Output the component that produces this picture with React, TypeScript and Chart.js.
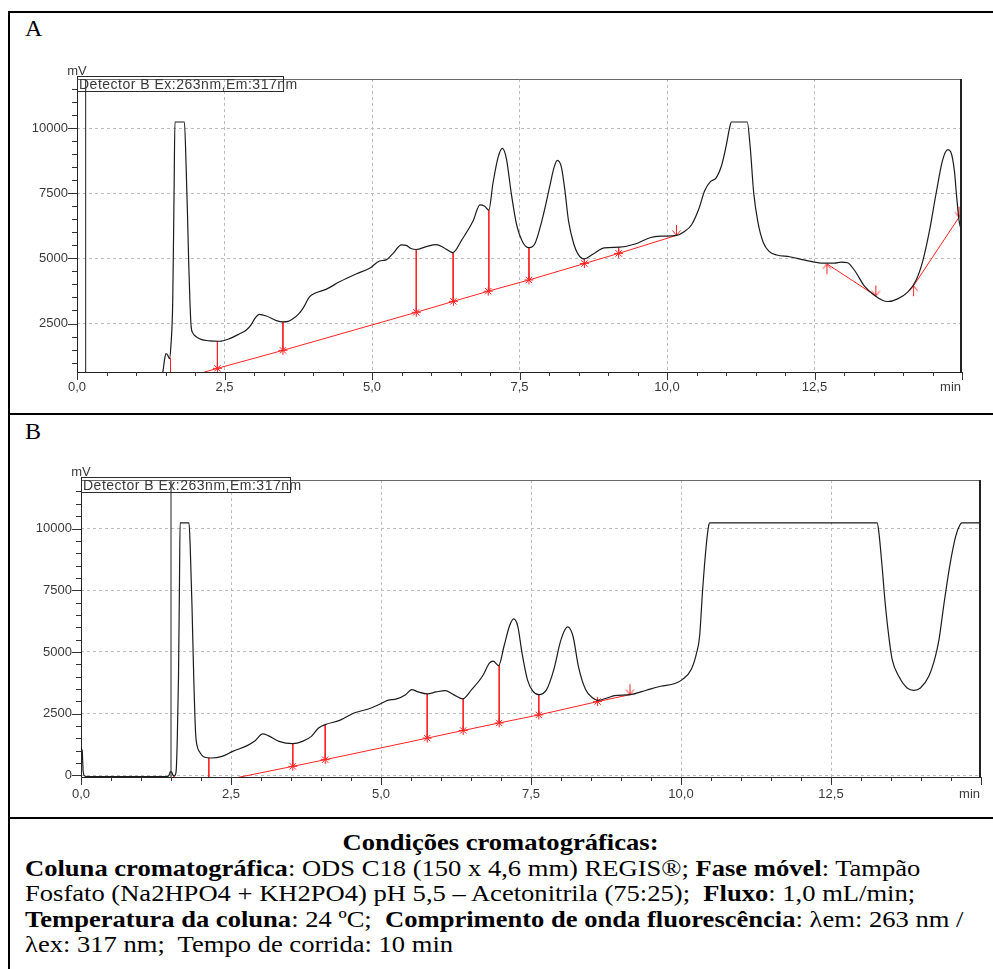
import React, { useEffect, useRef } from 'react';
import { Chart, registerables } from 'chart.js';

Chart.register(...registerables);

// ---------------- Panel A (chromatogram) ----------------
const timeA = [1.42, 1.455, 1.49, 1.51, 1.535, 1.567, 1.59, 1.623, 1.645, 1.66,
  1.82, 1.85, 1.875, 1.895, 1.915, 1.934, 1.96, 1.99, 2.05, 2.1,
  2.245, 2.415, 2.585, 2.75, 2.87, 2.95, 3.01, 3.09, 3.21, 3.38,
  3.49, 3.58, 3.66, 3.75, 3.83, 3.94, 4.03, 4.22, 4.45, 4.73,
  4.96, 5.13, 5.24, 5.35, 5.5, 5.58, 5.66, 5.75, 5.92, 6.09,
  6.23, 6.37, 6.52, 6.71, 6.83, 6.91, 6.98, 7.05, 7.14, 7.21,
  7.28, 7.36, 7.45, 7.56, 7.66, 7.76, 7.88, 8.01, 8.08, 8.14,
  8.21, 8.27, 8.33, 8.42, 8.49, 8.59, 8.75, 8.94, 9.2, 9.46,
  9.71, 9.9, 10.16, 10.29, 10.42, 10.54, 10.64, 10.74, 10.83, 10.93,
  11.01, 11.06, 11.09, 11.36, 11.41, 11.47, 11.54, 11.63, 11.73, 11.86,
  12.08, 12.34, 12.61, 12.84, 12.95, 13.06, 13.18, 13.35, 13.52, 13.66,
  13.74, 13.91, 14.08, 14.22, 14.33, 14.45, 14.56, 14.67, 14.76, 14.81,
  14.87, 14.91, 14.95, 15.0];
const signalA = [300, 640, 1200, 1350, 1300, 1150, 1600, 3400, 7500, 10230,
  10230, 8500, 6500, 4700, 3300, 2400, 2150, 2050, 1950, 1890,
  1835, 1820, 1920, 2100, 2250, 2450, 2680, 2850, 2790, 2610,
  2560, 2580, 2680, 2850, 3080, 3520, 3660, 3810, 4100, 4400,
  4620, 4900, 4940, 5170, 5520, 5500, 5380, 5340, 5450, 5530,
  5390, 5220, 5700, 6420, 7050, 7000, 6850, 7880, 8900, 9220,
  8800, 7500, 6300, 5600, 5410, 5560, 6450, 7730, 8440, 8760,
  8500, 7600, 6450, 5550, 5170, 4980, 5170, 5400, 5430, 5550,
  5790, 5850, 5880, 6020, 6300, 6900, 7600, 7950, 8080, 8600,
  9400, 10000, 10230, 10230, 9270, 7500, 6400, 5620, 5270, 5130,
  5060, 4930, 4820, 4816, 4854, 4830, 4534, 3920, 3574, 3382,
  3344, 3446, 3702, 4150, 4854, 6070, 7478, 8758, 9168, 9078,
  8374, 7350, 6454, 6000];
const baseTimeA = [2.15, 2.38, 3.49, 5.75, 6.38, 6.97, 7.66, 8.6, 9.18, 10.16];
const baseA = [630, 780, 1470, 2930, 3350, 3740, 4170, 4800, 5190, 5880];
const baseTimeA2 = [12.71, 13.54];
const baseA2 = [4790, 3560];
const baseTimeA3 = [14.18, 14.95];
const baseA3 = [3950, 6580];
const dropTimeA = [1.585, 2.38, 3.49, 5.75, 6.375, 6.98, 7.66, 8.6, 9.18];
const dropTopA = [1180, 1822, 2560, 5340, 5220, 6850, 5410, 4990, 5430];
const dropBottomA = [300, 780, 1470, 2930, 3350, 3740, 4170, 4800, 5190];
const starTimeA = [2.38, 3.49, 5.75, 6.38, 6.97, 7.66, 8.6, 9.18];
const starA = [780, 1470, 2930, 3350, 3740, 4170, 4800, 5190];
const arrowTimeA = [10.16, 12.71, 13.54, 14.18, 14.95];
const arrowA = [5880, 4790, 3560, 3950, 6580];
const arrowDirA = ['down', 'up', 'down', 'up', 'down'];
const markerTimeA = 0.147;
const yMajorA = [2500, 5000, 7500, 10000];

// ---------------- Panel B (chromatogram) ----------------
const timeB = [0, 0.02, 0.035, 0.06, 0.1, 1.44, 1.47, 1.49, 1.51, 1.53,
  1.56, 1.585, 1.605, 1.625, 1.64, 1.652, 1.8, 1.82, 1.85, 1.88,
  1.91, 1.94, 1.97, 2.05, 2.17, 2.35, 2.53, 2.77, 2.89, 3.03,
  3.12, 3.3, 3.53, 3.69, 3.84, 3.96, 4.07, 4.31, 4.55, 4.79,
  4.97, 5.11, 5.26, 5.41, 5.51, 5.62, 5.77, 5.92, 6.07, 6.21,
  6.36, 6.51, 6.69, 6.81, 6.87, 6.96, 7.05, 7.14, 7.21, 7.28,
  7.35, 7.44, 7.53, 7.63, 7.76, 7.88, 8.0, 8.11, 8.2, 8.29,
  8.41, 8.53, 8.61, 8.77, 8.89, 9.15, 9.42, 9.66, 9.9, 10.02,
  10.17, 10.26, 10.31, 10.36, 10.42, 10.46, 10.48, 13.27, 13.3, 13.35,
  13.41, 13.47, 13.52, 13.63, 13.77, 13.88, 13.99, 14.13, 14.24, 14.3,
  14.38, 14.48, 14.58, 14.65, 14.68, 15.0];
const signalB = [1100, 1000, 200, -20, -45, -45, 20, 150, 140, 20,
  -10, 150, 1500, 4000, 7500, 10230, 10230, 9280, 6850, 3880,
  1720, 1150, 975, 745, 705, 770, 975, 1205, 1380, 1680,
  1610, 1380, 1290, 1380, 1580, 1920, 2055, 2230, 2530, 2690,
  2870, 3040, 3100, 3270, 3475, 3380, 3300, 3380, 3435, 3270,
  3100, 3475, 4015, 4555, 4625, 4450, 5230, 6040, 6340, 6040,
  4960, 3880, 3410, 3270, 3475, 4285, 5500, 6015, 5635, 4420,
  3475, 3135, 3040, 3135, 3230, 3270, 3450, 3610, 3720, 3880,
  4285, 4960, 5635, 7500, 9300, 10100, 10230, 10230, 9800, 8500,
  6800, 5500, 4690, 4014, 3540, 3446, 3540, 4014, 4824, 5500,
  6900, 8500, 9700, 10150, 10230, 10230];
const baseTimeB = [2.55, 3.53, 4.07, 5.77, 6.37, 6.97, 7.63, 8.61, 9.15];
const baseB = [-115, 367, 637, 1510, 1820, 2124, 2450, 2990, 3270];
const dropTimeB = [1.55, 2.13, 3.53, 4.07, 5.77, 6.37, 6.97, 7.63, 8.61];
const dropTopB = [-10, 710, 1290, 2055, 3300, 3100, 4450, 3270, 3040];
const dropBottomB = [-200, -200, 367, 637, 1510, 1820, 2124, 2450, 2990];
const starTimeB = [3.53, 4.07, 5.77, 6.37, 6.97, 7.63, 8.61];
const starB = [367, 637, 1510, 1820, 2124, 2450, 2990];
const arrowTimeB = [9.15];
const arrowB = [3270];
const arrowDirB = ['down'];
const markerTimeB = 1.5;
const yMajorB = [0, 2500, 5000, 7500, 10000];

// ---------------- shared axis text ----------------
const xTickLabels = ['0,0', '2,5', '5,0', '7,5', '10,0', '12,5', 'min'];
const legendText = 'Detector B Ex:263nm,Em:317nm';
const yUnit = 'mV';

const BLACK = '#1c1c1c';
const RED = '#ff2424';
const GRID = '#bdbdbd';
const TEXT = '#3a3a3a';
const SANS = '"Liberation Sans", Arial, sans-serif';
const SERIF = '"Liberation Serif", "Times New Roman", serif';

type PanelCfg = {
  id: string;
  time: number[]; signal: number[];
  bases: [number[], number[]][];
  dropTime: number[]; dropTop: number[]; dropBottom: number[];
  starTime: number[]; star: number[];
  arrowTime: number[]; arrow: number[]; arrowDir: string[];
  markerTime: number;
  yMajor: number[];
  yMin: number; yMax: number;
  padTop: number; padRight: number; yAxisWidth: number; xAxisHeight: number;
  xLabelPad: number; legendW: number;
};

const pts = (xs: number[], ys: number[]) => xs.map((x, i) => ({ x, y: ys[i] }));
const dropPts = (ts: number[], tops: number[], bots: number[]) =>
  ts.flatMap((t, i) => [{ x: t, y: tops[i] }, { x: t, y: bots[i] }, { x: t, y: null as any }]);

function makeArrow(dir: string): HTMLCanvasElement {
  const c = document.createElement('canvas');
  c.width = 11; c.height = 25;
  const g = c.getContext('2d')!;
  g.strokeStyle = RED; g.lineWidth = 1;
  g.beginPath();
  if (dir === 'down') {
    g.moveTo(5.5, 2); g.lineTo(5.5, 12.5);
    g.moveTo(1.5, 7.5); g.lineTo(5.5, 12.5); g.lineTo(9.5, 7.5);
  } else {
    g.moveTo(5.5, 23); g.lineTo(5.5, 12.5);
    g.moveTo(1.5, 17.5); g.lineTo(5.5, 12.5); g.lineTo(9.5, 17.5);
  }
  g.stroke();
  return c;
}

function framePlugin(cfg: PanelCfg) {
  return {
    id: 'frame' + cfg.id,
    afterDraw(chart: any) {
      const { ctx, chartArea } = chart;
      const { left, right, top, bottom } = chartArea;
      const xs = chart.scales.x;
      const ys = chart.scales.y;
      const line = (x1: number, y1: number, x2: number, y2: number) => {
        ctx.beginPath(); ctx.moveTo(x1, y1); ctx.lineTo(x2, y2); ctx.stroke();
      };
      ctx.save();
      ctx.lineWidth = 1;
      ctx.strokeStyle = '#6a6a6a';
      line(left, top + 0.5, right, top + 0.5);
      ctx.strokeStyle = '#222';
      line(left + 0.5, top, left + 0.5, bottom + 1);
      line(left, bottom + 0.5, right, bottom + 0.5);
      ctx.lineWidth = 2;
      line(right - 1, top, right - 1, bottom + 1);
      ctx.lineWidth = 1;
      ctx.strokeStyle = '#333';
      for (let v = Math.ceil(cfg.yMin / 500) * 500; v <= cfg.yMax; v += 500) {
        const py = Math.round(ys.getPixelForValue(v)) + 0.5;
        const len = v % 2500 === 0 ? 9 : 5;
        line(left - len, py, left, py);
      }
      for (let k = 0; k <= 30; k++) {
        const t = k * 0.5;
        const px = Math.round(xs.getPixelForValue(t)) + 0.5;
        const len = k % 5 === 0 ? 8 : 4;
        line(px, bottom, px, bottom + len);
      }
      ctx.fillStyle = TEXT;
      ctx.font = '13px ' + SANS;
      ctx.textBaseline = 'middle';
      ctx.textAlign = 'center';
      ctx.fillText(yUnit, left, top - 8);
      ctx.textAlign = 'right';
      ctx.fillText(xTickLabels[xTickLabels.length - 1], right - 1, bottom + cfg.xLabelPad + 7.8);
      ctx.strokeStyle = '#2a2a2a';
      ctx.strokeRect(left + 0.5, top - 2.5, cfg.legendW, 15);
      ctx.textAlign = 'left';
      ctx.font = '14px ' + SANS;
      try { (ctx as any).letterSpacing = '0.5px'; } catch (e) { /* ignore */ }
      ctx.fillText(legendText, left + 2, top + 6);
      ctx.restore();
    },
  };
}

function makeChart(canvas: HTMLCanvasElement, cfg: PanelCfg) {
  const datasets: any[] = [
    {
      data: pts(cfg.time, cfg.signal), borderColor: BLACK, borderWidth: 1.2,
      pointRadius: 0, cubicInterpolationMode: 'monotone', fill: false,
    },
    {
      data: [{ x: cfg.markerTime, y: -5000 }, { x: cfg.markerTime, y: 20000 }],
      borderColor: BLACK, borderWidth: 1, pointRadius: 0,
    },
    {
      data: cfg.starTime.map((t, i) => ({ x: t, y: cfg.star[i] })), showLine: false,
      pointStyle: 'star', pointRadius: 4.5, borderColor: RED, borderWidth: 1, backgroundColor: RED,
    },
    {
      data: cfg.arrowTime.map((t, i) => ({ x: t, y: cfg.arrow[i] })), showLine: false,
      pointStyle: cfg.arrowDir.map(makeArrow), pointRadius: 6, borderColor: RED,
    },
    ...cfg.bases.map(([xs, ys]) => ({
      data: pts(xs, ys), borderColor: RED, borderWidth: 1, pointRadius: 0, tension: 0,
    })),
    {
      data: dropPts(cfg.dropTime, cfg.dropTop, cfg.dropBottom), borderColor: RED,
      borderWidth: 1, pointRadius: 0, spanGaps: false,
    },
  ];

  return new Chart(canvas, {
    type: 'line',
    data: { datasets },
    options: {
      responsive: false,
      animation: false,
      events: [],
      layout: { padding: { left: 0, top: cfg.padTop, right: cfg.padRight, bottom: 0 } },
      plugins: { legend: { display: false }, tooltip: { enabled: false } },
      scales: {
        x: {
          type: 'linear', min: 0, max: 15,
          afterFit: (s: any) => { s.height = cfg.xAxisHeight; },
          afterBuildTicks: (s: any) => {
            const arr = [];
            for (let k = 0; k <= 30; k++) arr.push({ value: k * 0.5 });
            s.ticks = arr;
          },
          ticks: {
            autoSkip: false, maxRotation: 0, minRotation: 0, padding: cfg.xLabelPad,
            color: TEXT, font: { family: SANS, size: 13 },
            callback: (value: any) => {
              const v = Number(value);
              const i = Math.round(v / 2.5);
              return Math.abs(v - i * 2.5) < 1e-6 && i < xTickLabels.length - 1 ? xTickLabels[i] : '';
            },
          },
          grid: {
            drawTicks: false,
            color: (c: any) => {
              const v = c.tick ? c.tick.value : 0;
              const i = Math.round(v / 2.5);
              return Math.abs(v - i * 2.5) < 1e-6 && v > 0 && v < 15 ? GRID : 'rgba(0,0,0,0)';
            },
          },
          border: { display: false, dash: [3, 3] },
        },
        y: {
          type: 'linear', min: cfg.yMin, max: cfg.yMax,
          afterFit: (s: any) => { s.width = cfg.yAxisWidth; },
          afterBuildTicks: (s: any) => {
            const arr = [];
            for (let v = Math.ceil(cfg.yMin / 500) * 500; v <= cfg.yMax; v += 500) arr.push({ value: v });
            s.ticks = arr;
          },
          ticks: {
            autoSkip: false, padding: 9, color: TEXT, font: { family: SANS, size: 13 },
            callback: (value: any) => (cfg.yMajor.includes(Number(value)) ? String(value) : ''),
          },
          grid: {
            drawTicks: false,
            color: (c: any) => (c.tick && cfg.yMajor.includes(c.tick.value) ? GRID : 'rgba(0,0,0,0)'),
          },
          border: { display: false, dash: [3, 3] },
        },
      },
    },
    plugins: [framePlugin(cfg)],
  } as any);
}

const cfgA: PanelCfg = {
  id: 'A', time: timeA, signal: signalA,
  bases: [[baseTimeA, baseA], [baseTimeA2, baseA2], [baseTimeA3, baseA3]],
  dropTime: dropTimeA, dropTop: dropTopA, dropBottom: dropBottomA,
  starTime: starTimeA, star: starA, arrowTime: arrowTimeA, arrow: arrowA, arrowDir: arrowDirA,
  markerTime: markerTimeA, yMajor: yMajorA, yMin: 640, yMax: 11880,
  padTop: 66, padRight: 29, yAxisWidth: 67, xAxisHeight: 41, xLabelPad: 8, legendW: 206,
};

const cfgB: PanelCfg = {
  id: 'B', time: timeB, signal: signalB,
  bases: [[baseTimeB, baseB]],
  dropTime: dropTimeB, dropTop: dropTopB, dropBottom: dropBottomB,
  starTime: starTimeB, star: starB, arrowTime: arrowTimeB, arrow: arrowB, arrowDir: arrowDirB,
  markerTime: markerTimeB, yMajor: yMajorB, yMin: -65, yMax: 11965,
  padTop: 65, padRight: 10, yAxisWidth: 71, xAxisHeight: 40, xLabelPad: 10, legendW: 209,
};

function Panel({ cfg, left, top, width, height }: { cfg: PanelCfg; left: number; top: number; width: number; height: number }) {
  const ref = useRef<HTMLCanvasElement>(null);
  useEffect(() => {
    const chart = makeChart(ref.current as HTMLCanvasElement, cfg);
    return () => chart.destroy();
  }, [cfg]);
  return (
    <canvas ref={ref} width={width} height={height}
      style={{ position: 'absolute', left, top, width, height, display: 'block' }} />
  );
}

const bar = (left: number, top: number, width: number, height: number) => (
  <div style={{ position: 'absolute', left, top, width, height, background: '#000' }} />
);

const TEXT_SCALE = 1.155;
const lineStyle: React.CSSProperties = { paddingLeft: 15, transform: `scaleX(${TEXT_SCALE})`, transformOrigin: '15px 50%' };

export default function App() {
  return (
    <div style={{ position: 'absolute', left: 0, top: 0, width: 993, height: 969, overflow: 'hidden', background: '#fff' }}>
      {bar(8, 11, 990, 2)}
      {bar(8, 11, 2, 970)}
      {bar(8, 413, 990, 2)}
      {bar(8, 817, 990, 2)}
      <div style={{ position: 'absolute', left: 25, top: 16, fontFamily: SERIF, fontSize: 24, lineHeight: '24px' }}>A</div>
      <div style={{ position: 'absolute', left: 25, top: 419, fontFamily: SERIF, fontSize: 24, lineHeight: '24px' }}>B</div>
      <Panel cfg={cfgA} left={10} top={13} width={981} height={400} />
      <Panel cfg={cfgB} left={10} top={415} width={981} height={402} />
      <div style={{ position: 'absolute', left: 10, top: 830, width: 981, fontFamily: SERIF, fontSize: 23, lineHeight: '25.5px', color: '#000', whiteSpace: 'pre' }}>
        <div style={{ textAlign: 'center', fontWeight: 'bold', transform: `scaleX(${TEXT_SCALE})` }}>Condições cromatográficas:</div>
        <div style={lineStyle}><b>Coluna cromatográfica</b>: ODS C18 (150 x 4,6 mm) REGIS®; <b>Fase móvel</b>: Tampão</div>
        <div style={lineStyle}>Fosfato (Na2HPO4 + KH2PO4) pH 5,5 – Acetonitrila (75:25);  <b>Fluxo</b>: 1,0 mL/min;</div>
        <div style={lineStyle}><b>Temperatura da coluna</b>: 24 ºC;  <b>Comprimento de onda fluorescência</b>: λem: 263 nm /</div>
        <div style={lineStyle}>λex: 317 nm;  Tempo de corrida: 10 min</div>
      </div>
    </div>
  );
}
